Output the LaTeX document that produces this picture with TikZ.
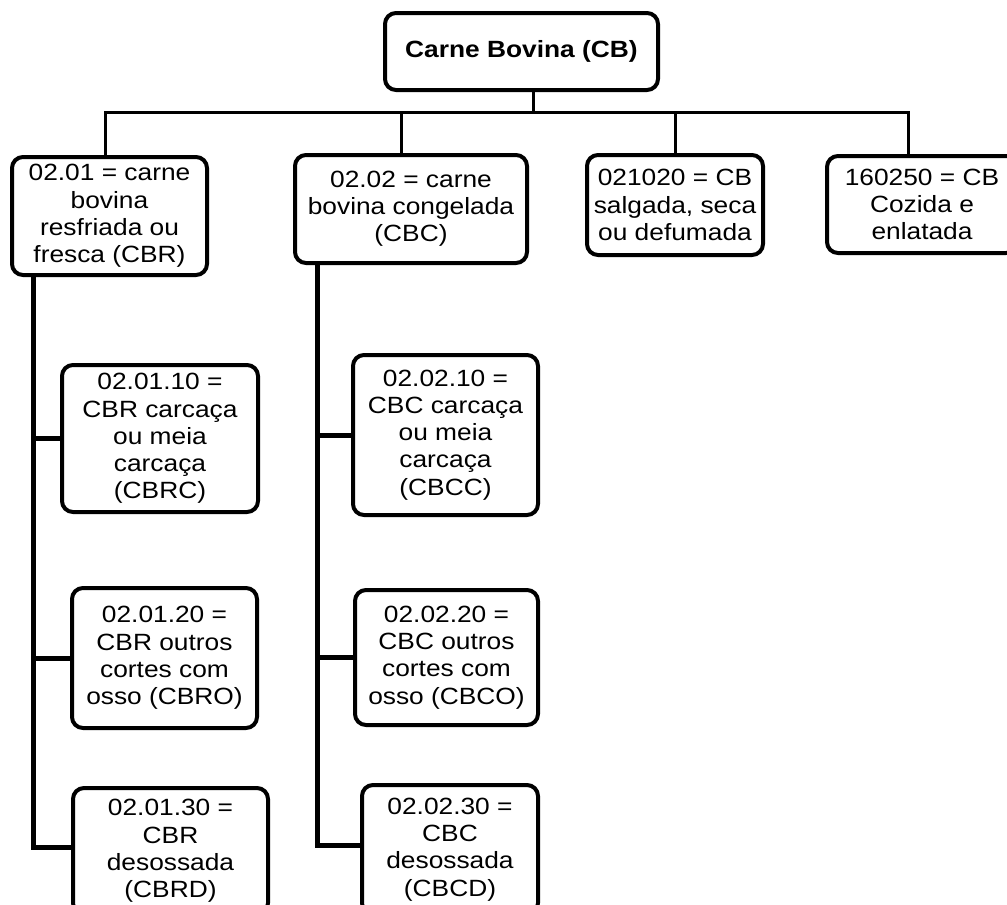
\documentclass[tikz,border=0pt]{standalone}
\usepackage{fontspec}
\setmainfont{Liberation Sans}[FakeStretch=1.12]
\usepackage{tikz}
\usetikzlibrary{positioning}

\begin{document}
\begin{tikzpicture}[x=1pt, y=-1pt,
    box/.style={draw, line width=4pt, rounded corners=11pt, align=center,
                inner sep=2pt, font=\fontsize{23.5}{27.2}\selectfont},
    toplink/.style={line width=3pt},
    trunk/.style={line width=5pt}]
    \clip (0,0) rectangle (1007,905);

    \node[box, minimum width=273pt, minimum height=77pt, font=\fontsize{23.5}{27.2}\selectfont\bfseries]
        (cb) at (521.5,51.5) {Carne Bovina (CB)};

    \node[box, minimum width=195pt, minimum height=118pt] (cbr) at (109.5,216)
        {02.01 = carne\\bovina\\resfriada ou\\fresca (CBR)};
    \node[box, minimum width=232pt, minimum height=108pt] (cbc) at (411,209)
        {02.02 = carne\\bovina congelada\\(CBC)};
    \node[box, minimum width=176pt, minimum height=100pt] (cbs) at (675,205)
        {021020 = CB\\salgada, seca\\ou defumada};
    \node[box, minimum width=190pt, minimum height=97pt] (cbe) at (922,204.5)
        {160250 = CB\\Cozida e\\enlatada};

    \node[box, minimum width=196pt, minimum height=147pt] (cbrc) at (160,438.5)
        {02.01.10 =\\CBR carcaça\\ou meia\\carcaça\\(CBRC)};
    \node[box, minimum width=185pt, minimum height=140pt] (cbro) at (164.5,658)
        {02.01.20 =\\CBR outros\\cortes com\\osso (CBRO)};
    \node[box, minimum width=195pt, minimum height=126pt] (cbrd) at (170.5,851)
        {02.01.30 =\\CBR\\desossada\\(CBRD)};

    \node[box, minimum width=185pt, minimum height=160pt] (cbcc) at (445.5,435)
        {02.02.10 =\\CBC carcaça\\ou meia\\carcaça\\(CBCC)};
    \node[box, minimum width=183pt, minimum height=135pt] (cbco) at (446.5,657.5)
        {02.02.20 =\\CBC outros\\cortes com\\osso (CBCO)};
    \node[box, minimum width=176pt, minimum height=129pt] (cbcd) at (450,849.5)
        {02.02.30 =\\CBC\\desossada\\(CBCD)};

    \coordinate (bar) at (0,112);
    \coordinate (trkr) at (33,0);
    \coordinate (trkc) at (317,0);

    \draw[toplink] ([xshift=11.5pt]cb.south) -- ([xshift=11.5pt]cb.south |- bar);
    \draw[toplink] ([xshift=-4.5pt]cbr.north) |- ([xshift=-14pt]cbe.north |- bar)
        -- ([xshift=-14pt]cbe.north);
    \draw[toplink] ([xshift=-10pt]cbc.north) -- ([xshift=-10pt]cbc.north |- bar);
    \draw[toplink] (cbs.north) -- (cbs.north |- bar);

    \draw[trunk] (trkr |- cbr.south) |- ([yshift=4pt]cbrd.west);
    \draw[trunk] (trkr |- cbrc.west) -- (cbrc.west);
    \draw[trunk] (trkr |- cbro.west) -- (cbro.west);

    \draw[trunk] (trkc |- cbc.south) |- ([yshift=4.5pt]cbcd.west);
    \draw[trunk] (trkc |- cbcc.west) -- (cbcc.west);
    \draw[trunk] (trkc |- cbco.west) -- (cbco.west);
\end{tikzpicture}
\end{document}
